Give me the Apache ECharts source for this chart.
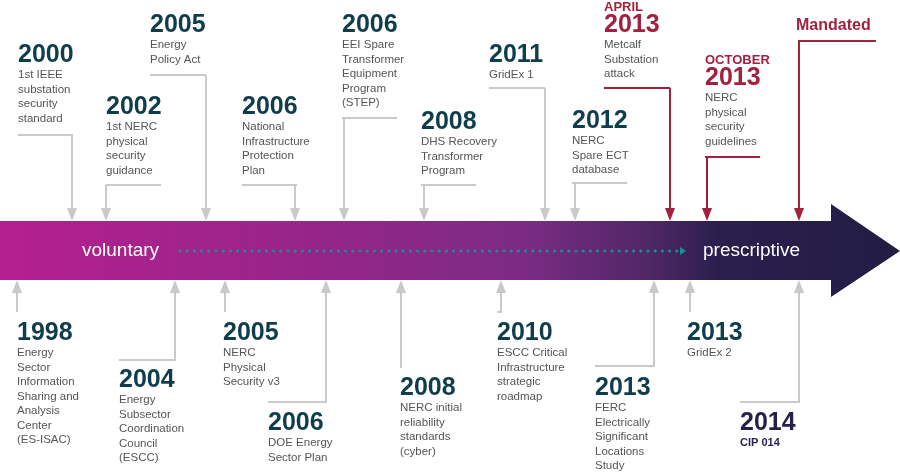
<!DOCTYPE html>
<html><head><meta charset="utf-8">
<script src="https://cdn.jsdelivr.net/npm/echarts@6/dist/echarts.min.js"></script>
<style>html,body{margin:0;padding:0;background:#fff}#c{width:900px;height:473px}</style>
</head><body><div id="c"></div>
<script>
// Top events (above the arrow)
const topPre   = ['', '', '', '', '', '', '', '', 'APRIL', 'OCTOBER'];
const topYears = ['2000','2002','2005','2006','2006','2008','2011','2012','2013','2013'];
const topTexts = [
 '1st IEEE\nsubstation\nsecurity\nstandard',
 '1st NERC\nphysical\nsecurity\nguidance',
 'Energy\nPolicy Act',
 'National\nInfrastructure\nProtection\nPlan',
 'EEI Spare\nTransformer\nEquipment\nProgram\n(STEP)',
 'DHS Recovery\nTransformer\nProgram',
 'GridEx 1',
 'NERC\nSpare ECT\ndatabase',
 'Metcalf\nSubstation\nattack',
 'NERC\nphysical\nsecurity\nguidelines'];
const topRed   = [0,0,0,0,0,0,0,0,1,1];
const topLabelX = [18,106,150,242,342,421,489,572,604,705];
const topYearY  = [43,95,13,95,13,110,43,109,13,66];
const topElbowY = [135,185,75,185,118,185,88,183,88,157];
const topArrowX = [72,106,206,295,344,424,545,575,670,707];
// Bottom events (below the arrow)
const botYears = ['1998','2004','2005','2006','2008','2010','2013','2013','2014'];
const botTexts = [
 'Energy\nSector\nInformation\nSharing and\nAnalysis\nCenter\n(ES-ISAC)',
 'Energy\nSubsector\nCoordination\nCouncil\n(ESCC)',
 'NERC\nPhysical\nSecurity v3',
 'DOE Energy\nSector Plan',
 'NERC initial\nreliability\nstandards\n(cyber)',
 'ESCC Critical\nInfrastructure\nstrategic\nroadmap',
 'FERC\nElectrically\nSignificant\nLocations\nStudy',
 'GridEx 2',
 'CIP 014'];
const botLabelX = [17,119,223,268,400,497,595,687,740];
const botYearY  = [321,368,321,411,376,321,376,321,411];
const botElbowY = [312,360,312,402,368,312,366,312,402];
const botArrowX = [17,175,225,326,401,501,654,690,799];
const mandated = {text:'Mandated', labelX:796, y:18, elbowY:41, arrowX:799};

const GRAY='#c9c9c9', RED='#a3203f', TEAL='#0f3d4c', BODY='#555', NAVY='#241f4d';
const FONT='"Liberation Sans", Arial, sans-serif';
const BAND_T=221, BAND_B=280;

const chart = echarts.init(document.getElementById('c'), null, {renderer:'canvas'});

function tri(x, y, dir, color){
  return {type:'polygon', shape:{points:[[x-5,y-13*dir],[x+5,y-13*dir],[x,y]]}, style:{fill:color}};
}
function line(pts, color){
  return {type:'polyline', shape:{points:pts}, style:{stroke:color, lineWidth:2, fill:null}};
}

chart.setOption({
  animation:false,
  grid:{left:0,right:0,top:0,bottom:0},
  xAxis:{type:'value',min:0,max:900,show:false},
  yAxis:{type:'value',min:0,max:473,inverse:true,show:false},
  series:[
    {
      type:'custom', data:[[0]], z:1,
      renderItem:(p,api)=>{
        const a=api.coord([0,BAND_T]), b=api.coord([831,BAND_B]), h1=api.coord([831,204]), tip=api.coord([900,251]), h2=api.coord([831,297]);
        const dots=[]; const s=api.coord([180,251]), e=api.coord([680,251]);
        for(let x=s[0]; x<e[0]; x+=7.2) dots.push({type:'circle',shape:{cx:x,cy:s[1],r:1.6},style:{fill:'#1d8c95'}});
        dots.push({type:'polygon',shape:{points:[[e[0],s[1]-4],[e[0],s[1]+4],[e[0]+6,s[1]]]},style:{fill:'#1d8c95'}});
        return {type:'group',children:[
          {type:'polygon',shape:{points:[[a[0],a[1]],[b[0],a[1]],[h1[0],h1[1]],[tip[0],tip[1]],[h2[0],h2[1]],[b[0],b[1]],[a[0],b[1]]]},
           style:{fill:new echarts.graphic.LinearGradient(0,0,1,0,[
             {offset:0,color:'#b51f8f'},{offset:0.35,color:'#962589'},{offset:0.58,color:'#7c2b85'},
             {offset:0.72,color:'#502766'},{offset:0.8,color:'#2a1e4d'},{offset:1,color:'#221d45'}])}},
          ...dots,
          {type:'text',x:api.coord([82,0])[0],y:s[1],style:{text:'voluntary',fill:'#fff',font:'19px '+FONT,verticalAlign:'middle'}},
          {type:'text',x:api.coord([703,0])[0],y:s[1],style:{text:'prescriptive',fill:'#fff',font:'19px '+FONT,verticalAlign:'middle'}}
        ]};
      }
    },
    {
      type:'custom', z:2, data:topYears.map((y,i)=>[topLabelX[i],topYearY[i]]),
      renderItem:(p,api)=>{
        const i=p.dataIndex, col=topRed[i]?RED:GRAY, ycol=topRed[i]?RED:TEAL;
        const L=api.coord([topLabelX[i],topYearY[i]]), E=api.coord([topArrowX[i],topElbowY[i]]);
        const T=api.coord([topArrowX[i],BAND_T]);
        const right=Math.max(E[0],L[0]+55), left=Math.min(L[0],E[0]);
        const ch=[
          line([[left,E[1]],[right,E[1]]],col),
          line([[E[0],E[1]],[E[0],T[1]-10]],col),
          tri(E[0],T[1],1,col)];
        if(topPre[i]) ch.push({type:'text',x:L[0],y:L[1]-12,style:{text:topPre[i],fill:RED,font:'bold 13px '+FONT}});
        ch.push({type:'text',x:L[0],y:L[1],style:{text:topYears[i],fill:ycol,font:'bold 25px '+FONT}});
        ch.push({type:'text',x:L[0],y:L[1]+25,style:{text:topTexts[i],fill:BODY,font:'11.5px '+FONT,lineHeight:14.5}});
        return {type:'group',children:ch};
      }
    },
    {
      type:'custom', z:2, data:[[mandated.labelX,mandated.y]],
      renderItem:(p,api)=>{
        const L=api.coord([mandated.labelX,mandated.y]), E=api.coord([mandated.arrowX,mandated.elbowY]), T=api.coord([mandated.arrowX,BAND_T]);
        return {type:'group',children:[
          {type:'text',x:L[0],y:L[1],style:{text:mandated.text,fill:RED,font:'bold 16px '+FONT}},
          line([[L[0]+80,E[1]],[E[0],E[1]],[E[0],T[1]-10]],RED),
          tri(E[0],T[1],1,RED)]};
      }
    },
    {
      type:'custom', z:2, data:botYears.map((y,i)=>[botLabelX[i],botYearY[i]]),
      renderItem:(p,api)=>{
        const i=p.dataIndex, last=i===botYears.length-1;
        const L=api.coord([botLabelX[i],botYearY[i]]), E=api.coord([botArrowX[i],botElbowY[i]]), B=api.coord([botArrowX[i],BAND_B]);
        const pts = Math.abs(E[0]-L[0])>3 ? [[L[0],E[1]],[E[0],E[1]],[E[0],B[1]+10]] : [[E[0],E[1]],[E[0],B[1]+10]];
        return {type:'group',children:[
          line(pts,GRAY),
          tri(E[0],B[1],-1,GRAY),
          {type:'text',x:L[0],y:L[1],style:{text:botYears[i],fill:last?NAVY:TEAL,font:'bold 25px '+FONT}},
          {type:'text',x:L[0],y:L[1]+25,style:{text:botTexts[i],fill:last?NAVY:BODY,font:(last?'bold 11px ':'11.5px ')+FONT,lineHeight:14.5}}
        ]};
      }
    }
  ]
});
</script></body></html>
